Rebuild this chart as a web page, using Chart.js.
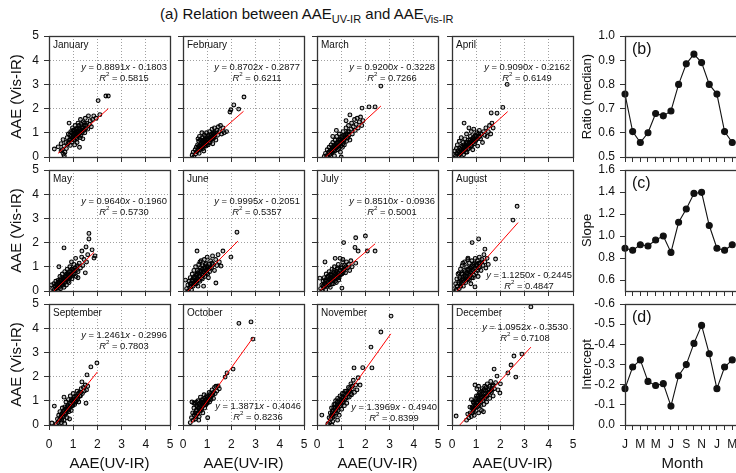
<!DOCTYPE html>
<html>
<head>
<meta charset="utf-8">
<script src="https://cdn.jsdelivr.net/npm/chart.js"></script>
<style>
  html, body { margin: 0; padding: 0; background: #fff; overflow: hidden; width: 736px; height: 473px; }
  canvas { position: absolute; }
  #title { position: absolute; left: 160px; top: 5px; white-space: nowrap; font: 15px "Liberation Sans", Arial, sans-serif; line-height: 17px; color: #111; }
  #title sub { font-size: 11px; line-height: 0; vertical-align: -4px; }
</style>
</head>
<body>
<div id="title">(a) Relation between AAE<sub>UV-IR</sub> and AAE<sub>Vis-IR</sub></div>
<script>
// ---------------- data ----------------
const monthNames = ["January", "February", "March", "April", "May", "June",
    "July", "August", "September", "October", "November", "December"];
const slopes = [0.8891, 0.8702, 0.9200, 0.9090, 0.9640, 0.9995, 0.8510, 1.1250, 1.2461, 1.3871, 1.3969, 1.0952];
const intercepts = [-0.1803, -0.2877, -0.3228, -0.2162, -0.1960, -0.2051, -0.0936, -0.2445, -0.2996, -0.4046, -0.4940, -0.3530];
const rSquared = [0.5815, 0.6211, 0.7266, 0.6149, 0.5730, 0.5357, 0.5001, 0.4847, 0.7803, 0.8236, 0.8399, 0.7108];
const fitFrom = [0.37, 0.45, 0.35, 0.3, 0.2, 0.2, 0.15, 0.22, 0.25, 0.35, 0.37, 0.32];
const fitTo = [2.45, 2.5, 2.64, 2.3, 1.86, 2.27, 2.4, 2.73, 2.0, 2.9, 3.05, 3.26];
const ratioMedian = [0.76, 0.605, 0.56, 0.60, 0.68, 0.67, 0.69, 0.80, 0.885, 0.925, 0.89, 0.80];
const monthLetters = ["J", "F", "M", "A", "M", "J", "J", "A", "S", "O", "N", "D", "J", "F", "M", "A"];
const scatterTicks = [0, 1, 2, 3, 4, 5];
const ratioTicks = [0.5, 0.6, 0.7, 0.8, 0.9, 1.0];
const slopeTicks = [0.6, 0.8, 1.0, 1.2, 1.4, 1.6];
const interceptTicks = [-0.6, -0.5, -0.4, -0.3, -0.2, -0.1, 0.0];

const janPts = [[0.22,0.33],[0.38,0.42],[0.5,0.55],[0.5,0.25],[0.55,0.3],[0.6,0.12],[0.63,0.05],[0.66,0.2],[0.58,0.72],[0.62,0.45],
    [0.7,0.6],[0.72,0.35],[0.75,0.8],[0.78,0.55],[0.8,0.95],[0.83,1.4],[0.85,0.7],[0.88,0.48],[0.9,1.05],[0.92,0.85],
    [0.95,0.62],[0.97,1.2],[1.0,0.9],[1.02,0.72],[1.04,1.1],[1.06,0.5],[1.08,1.3],[1.1,0.95],[1.12,0.8],[1.14,1.15],
    [1.16,0.6],[1.18,1.0],[1.2,1.4],[1.22,0.85],[1.24,1.2],[1.26,0.4],[1.28,1.05],[1.3,1.55],[1.32,0.9],[1.35,1.25],
    [1.38,1.1],[1.4,0.75],[1.42,1.45],[1.45,1.3],[1.48,1.0],[1.5,1.6],[1.53,1.2],[1.56,1.4],[1.6,1.15],[1.63,1.7],
    [1.67,1.35],[1.7,1.5],[1.75,1.25],[1.8,1.55],[1.85,1.7],[1.95,1.6],[2.03,2.33],[2.1,1.75],[2.35,2.52],[2.45,2.52],
    [0.82,0.6],[0.86,0.9],[0.9,0.7],[0.94,1.0],[0.96,0.78],[0.99,1.1],[1.01,0.82],[1.03,0.95],[1.05,0.7],[1.07,1.0],
    [1.09,1.15],[1.11,0.88],[1.13,1.05],[1.15,0.75],[1.17,1.2],[1.19,0.92],[1.21,1.05],[1.23,1.3],[1.25,0.98],[1.27,1.15],
    [1.29,0.8],[1.31,1.1],[1.34,1.35],[1.37,1.0],[1.4,1.2],[1.44,1.1],[1.47,1.4],[1.52,1.3]];
const febPts = [[0.38,0.08],[0.42,0.2],[0.45,0.0],[0.5,0.3],[0.52,0.12],[0.55,0.4],[0.58,0.22],[0.6,0.5],[0.62,0.75],[0.63,0.32],
    [0.65,0.65],[0.67,0.15],[0.68,0.85],[0.7,0.45],[0.72,0.7],[0.75,0.35],[0.77,0.58],[0.78,1.0],[0.8,0.8],[0.82,0.42],
    [0.84,0.65],[0.86,0.25],[0.88,0.9],[0.9,0.55],[0.92,0.75],[0.95,0.45],[0.97,1.0],[1.0,0.62],[1.02,0.85],[1.04,0.5],
    [1.07,0.72],[1.1,1.05],[1.12,0.6],[1.15,0.9],[1.18,0.75],[1.2,1.15],[1.23,0.55],[1.25,0.95],[1.28,0.8],[1.3,1.2],
    [1.33,1.0],[1.36,0.7],[1.4,1.1],[1.43,0.9],[1.46,1.25],[1.5,1.05],[1.55,1.3],[1.6,0.95],[1.65,1.2],[1.7,1.0],
    [1.8,1.05],[1.94,1.86],[1.98,1.95],[2.1,2.15],[2.3,1.98],[2.52,2.48],
    [0.62,0.3],[0.66,0.45],[0.7,0.3],[0.73,0.5],[0.76,0.4],[0.79,0.65],[0.81,0.5],[0.83,0.35],[0.85,0.55],[0.87,0.7],
    [0.89,0.45],[0.91,0.62],[0.93,0.85],[0.96,0.6],[0.98,0.75],[1.0,0.5],[1.03,0.7],[1.05,0.9],[1.08,0.6],[1.11,0.8],
    [1.14,0.7],[1.17,0.95],[1.2,0.85],[1.24,0.75],[1.27,1.0],[1.32,0.9]];
const marPts = [[0.3,0.02],[0.35,0.15],[0.4,0.05],[0.42,0.3],[0.45,0.0],[0.48,0.2],[0.5,0.4],[0.53,0.1],[0.55,0.28],[0.58,0.5],
    [0.6,0.18],[0.62,0.35],[0.65,0.6],[0.65,0.85],[0.68,0.25],[0.7,0.45],[0.72,0.05],[0.75,0.7],[0.77,0.38],[0.8,0.55],
    [0.8,1.1],[0.82,0.85],[0.85,0.3],[0.87,0.62],[0.9,0.45],[0.92,0.95],[0.95,0.7],[0.97,0.2],[1.0,0.55],[1.0,0.0],
    [1.02,0.85],[1.05,0.4],[1.08,1.05],[1.1,0.7],[1.13,0.5],[1.16,0.9],[1.2,1.2],[1.2,1.5],[1.22,0.65],[1.25,0.95],
    [1.28,0.8],[1.3,1.3],[1.33,1.05],[1.36,0.7],[1.36,1.74],[1.4,1.15],[1.43,1.4],[1.46,0.95],[1.5,1.25],[1.55,1.55],
    [1.58,1.1],[1.62,1.35],[1.66,1.6],[1.7,1.2],[1.75,1.45],[1.8,1.65],[1.85,1.3],[1.86,2.02],[1.9,1.5],[2.15,2.07],
    [2.4,2.07],[2.64,2.93],
    [0.52,0.2],[0.56,0.12],[0.6,0.3],[0.63,0.2],[0.66,0.4],[0.69,0.3],[0.72,0.5],[0.74,0.25],[0.78,0.45],[0.81,0.4],
    [0.84,0.6],[0.86,0.45],[0.89,0.7],[0.91,0.35],[0.94,0.55],[0.97,0.75],[0.99,0.45],[1.02,0.65],[1.05,0.8],[1.07,0.55],
    [1.1,0.9],[1.13,0.7],[1.17,0.8],[1.2,0.95],[1.24,0.8],[1.28,1.05],[1.32,0.9]];
const aprPts = [[0.1,0.1],[0.12,0.25],[0.15,0.05],[0.18,0.35],[0.2,0.15],[0.22,0.5],[0.25,0.25],[0.28,0.05],[0.3,0.65],[0.32,0.35],
    [0.35,0.18],[0.38,0.8],[0.4,0.45],[0.42,0.25],[0.45,0.6],[0.48,0.1],[0.5,1.4],[0.5,0.4],[0.53,0.75],[0.55,0.3],
    [0.58,0.55],[0.6,0.95],[0.62,0.2],[0.65,0.5],[0.68,0.7],[0.7,1.2],[0.7,0.35],[0.73,0.6],[0.76,0.85],[0.78,0.45],
    [0.8,1.05],[0.83,0.65],[0.86,0.3],[0.88,0.8],[0.9,1.15],[0.93,0.55],[0.96,0.9],[1.0,0.7],[1.03,1.0],[1.06,0.45],
    [1.1,0.85],[1.13,1.1],[1.18,0.75],[1.22,0.95],[1.26,0.6],[1.3,1.05],[1.35,0.9],[1.4,1.2],[1.45,0.85],[1.5,1.05],
    [1.55,1.3],[1.6,0.95],[1.62,1.82],[1.65,1.4],[1.7,1.2],[1.86,1.81],[2.1,2.05],[2.28,3.0],
    [0.3,0.2],[0.34,0.1],[0.37,0.3],[0.4,0.2],[0.43,0.4],[0.46,0.25],[0.49,0.5],[0.52,0.3],[0.55,0.45],[0.58,0.2],
    [0.6,0.4],[0.63,0.6],[0.66,0.35],[0.69,0.55],[0.72,0.45],[0.75,0.7],[0.78,0.6],[0.81,0.45],[0.84,0.75],[0.87,0.6],
    [0.9,0.7],[0.93,0.85],[0.97,0.65],[1.0,0.85],[1.05,0.75],[1.1,0.95],[1.15,0.85]];
const mayPts = [[0.1,0.25],[0.15,0.1],[0.2,0.3],[0.22,0.05],[0.25,0.2],[0.28,0.4],[0.3,0.1],[0.33,0.28],[0.35,0.0],[0.38,0.45],
    [0.41,1.0],[0.4,0.2],[0.43,0.35],[0.45,0.6],[0.48,0.1],[0.5,0.45],[0.52,0.25],[0.55,0.7],[0.58,0.35],[0.6,0.55],
    [0.62,1.78],[0.62,0.15],[0.65,0.8],[0.68,0.45],[0.7,0.62],[0.72,0.25],[0.75,0.9],[0.78,0.5],[0.8,0.72],[0.83,0.35],
    [0.86,1.0],[0.88,0.6],[0.9,0.8],[0.93,1.2],[0.95,0.5],[0.98,0.9],[1.0,0.7],[1.03,1.1],[1.06,0.85],[1.1,1.35],
    [1.12,0.6],[1.15,1.0],[1.2,0.8],[1.2,0.55],[1.25,1.15],[1.3,0.95],[1.35,1.4],[1.36,1.65],[1.4,1.05],[1.45,1.3],
    [1.5,0.75],[1.53,1.82],[1.55,1.2],[1.6,1.5],[1.65,2.15],[1.65,2.38],[1.78,1.7],[1.86,1.36],[1.9,1.45],
    [0.3,0.25],[0.34,0.15],[0.37,0.35],[0.41,0.3],[0.44,0.15],[0.46,0.45],[0.5,0.3],[0.53,0.55],[0.56,0.4],[0.59,0.25],
    [0.62,0.5],[0.65,0.35],[0.67,0.6],[0.7,0.45],[0.73,0.7],[0.76,0.55],[0.79,0.4],[0.81,0.65],[0.84,0.8],[0.87,0.55],
    [0.9,0.7],[0.93,0.9],[0.96,0.65],[1.0,0.85],[1.04,0.7],[1.08,0.95],[1.13,0.85],[1.18,1.05]];
const junPts = [[0.1,0.45],[0.15,0.1],[0.2,0.25],[0.22,0.0],[0.25,0.4],[0.28,0.15],[0.3,0.55],[0.33,0.3],[0.35,0.05],[0.38,0.7],
    [0.4,0.4],[0.42,0.2],[0.45,0.85],[0.47,0.55],[0.5,0.3],[0.52,1.0],[0.55,0.65],[0.57,0.4],[0.58,1.65],[0.6,0.85],
    [0.62,0.2],[0.65,1.1],[0.67,0.6],[0.7,0.4],[0.7,1.2],[0.72,0.95],[0.75,1.25],[0.77,0.7],[0.8,0.5],[0.82,1.05],
    [0.85,0.8],[0.85,0.2],[0.88,1.3],[0.9,0.6],[0.92,0.95],[0.95,1.15],[0.98,0.75],[1.0,1.4],[1.02,0.9],[1.05,0.55],
    [1.08,1.1],[1.1,0.8],[1.14,1.25],[1.18,0.95],[1.22,1.45],[1.25,1.1],[1.3,0.85],[1.35,1.3],[1.36,0.33],[1.4,1.05],
    [1.45,1.5],[1.5,1.2],[1.57,1.03],[1.65,1.65],[1.98,1.4],[2.23,2.43],
    [0.3,0.3],[0.34,0.2],[0.37,0.45],[0.4,0.3],[0.43,0.55],[0.46,0.35],[0.49,0.6],[0.52,0.45],[0.55,0.3],[0.57,0.7],
    [0.6,0.5],[0.63,0.75],[0.66,0.45],[0.69,0.85],[0.71,0.6],[0.74,0.8],[0.77,0.55],[0.8,0.9],[0.83,0.65],[0.86,0.95],
    [0.89,0.75],[0.92,1.1],[0.95,0.85],[0.98,1.0],[1.02,0.7],[1.06,1.0],[1.12,0.95],[1.2,1.15]];
const julPts = [[0.12,0.53],[0.15,0.1],[0.2,0.25],[0.22,0.0],[0.25,0.4],[0.28,0.15],[0.3,0.55],[0.33,1.2],[0.33,0.3],[0.36,0.05],
    [0.38,0.7],[0.4,0.4],[0.43,0.2],[0.45,0.6],[0.48,0.35],[0.5,0.8],[0.52,0.5],[0.55,0.15],[0.58,0.65],[0.6,0.4],
    [0.62,0.9],[0.65,0.55],[0.68,0.3],[0.7,0.75],[0.72,1.0],[0.75,0.5],[0.75,1.35],[0.78,0.7],[0.8,0.35],[0.83,0.9],
    [0.86,0.6],[0.88,1.1],[0.9,0.45],[0.93,0.8],[0.95,1.35],[0.96,0.65],[1.0,1.0],[1.03,0.7],[1.03,0.12],[1.06,1.2],
    [1.07,1.3],[1.1,0.85],[1.14,1.05],[1.18,0.75],[1.22,1.2],[1.26,0.95],[1.3,1.1],[1.35,0.85],[1.4,1.25],[1.45,1.0],
    [1.1,2.0],[1.57,1.8],[1.6,1.15],[1.6,2.2],[1.7,1.65],[2.0,2.27],[2.08,1.65],[2.4,1.65],
    [0.25,0.2],[0.3,0.3],[0.34,0.45],[0.37,0.25],[0.41,0.55],[0.44,0.35],[0.47,0.6],[0.5,0.25],[0.53,0.45],[0.56,0.7],
    [0.59,0.5],[0.62,0.3],[0.64,0.65],[0.67,0.45],[0.7,0.85],[0.73,0.6],[0.76,0.4],[0.79,0.8],[0.82,0.6],[0.85,0.95],
    [0.88,0.75],[0.91,0.55],[0.95,0.85],[0.99,0.7],[1.03,0.95],[1.08,0.75],[1.13,0.9],[1.2,1.0]];
const augPts = [[0.1,0.1],[0.15,0.3],[0.18,0.05],[0.2,0.5],[0.22,0.2],[0.25,0.7],[0.28,0.35],[0.3,0.1],[0.3,0.75],[0.32,0.55],
    [0.35,0.9],[0.38,0.3],[0.4,0.7],[0.42,1.05],[0.45,0.5],[0.45,1.15],[0.47,0.2],[0.5,0.85],[0.52,1.2],[0.55,0.6],
    [0.57,0.35],[0.6,1.0],[0.62,0.75],[0.65,1.3],[0.66,1.36],[0.67,0.5],[0.7,0.9],[0.72,1.15],[0.75,0.65],[0.78,0.3],
    [0.8,1.0],[0.82,1.25],[0.83,2.0],[0.85,0.8],[0.88,0.55],[0.9,1.1],[0.93,0.9],[0.95,0.17],[0.96,1.35],[1.0,0.75],
    [1.02,1.05],[1.05,1.25],[1.08,0.6],[1.1,2.15],[1.1,0.95],[1.13,1.4],[1.16,1.15],[1.2,0.85],[1.24,1.3],[1.28,1.05],
    [1.32,1.5],[1.36,1.73],[1.36,1.2],[1.4,0.95],[1.45,1.35],[1.5,1.1],[1.8,1.32],[2.52,2.93],[2.69,3.5],
    [0.3,0.3],[0.33,0.5],[0.36,0.2],[0.39,0.45],[0.42,0.7],[0.45,0.35],[0.48,0.6],[0.51,0.4],[0.54,0.8],[0.57,0.55],
    [0.6,0.75],[0.63,0.5],[0.66,0.9],[0.69,0.7],[0.72,0.45],[0.75,0.95],[0.78,0.75],[0.81,0.55],[0.84,1.05],[0.87,0.85],
    [0.9,0.65],[0.93,1.15],[0.97,0.95],[1.0,1.1],[1.05,0.85],[1.1,1.15],[1.16,1.0],[1.22,1.2]];
const sepPts = [[0.12,0.08],[0.22,0.78],[0.3,0.05],[0.35,0.25],[0.38,0.1],[0.4,0.4],[0.43,0.2],[0.45,0.55],[0.48,0.3],[0.5,0.1],
    [0.52,0.45],[0.55,0.7],[0.57,0.35],[0.6,0.55],[0.62,1.15],[0.62,0.2],[0.65,0.75],[0.65,0.05],[0.68,0.45],[0.7,0.95],
    [0.72,0.6],[0.75,0.3],[0.77,0.8],[0.8,1.05],[0.82,0.55],[0.85,0.75],[0.85,0.25],[0.88,1.2],[0.9,0.9],[0.92,0.6],
    [0.95,1.0],[0.98,0.8],[1.0,1.3],[1.03,1.05],[1.06,0.85],[1.1,1.2],[1.13,1.0],[1.16,1.4],[1.2,1.15],[1.23,0.95],
    [1.26,1.35],[1.3,1.2],[1.33,1.5],[1.36,1.78],[1.38,1.3],[1.42,1.55],[1.46,1.4],[1.5,1.65],[1.53,0.9],[1.55,1.45],
    [1.57,2.07],[1.6,1.6],[1.73,2.4],[1.98,2.56],
    [0.5,0.35],[0.53,0.2],[0.56,0.5],[0.59,0.4],[0.62,0.6],[0.65,0.45],[0.68,0.65],[0.71,0.5],[0.74,0.75],[0.77,0.6],
    [0.8,0.8],[0.83,0.65],[0.86,0.9],[0.89,0.75],[0.92,1.0],[0.95,0.8],[0.98,1.05],[1.01,0.9],[1.04,1.15],[1.07,1.0],
    [1.1,0.95],[1.14,1.2],[1.18,1.05],[1.22,1.3],[1.27,1.2],[1.32,1.35]];
const octPts = [[0.3,0.1],[0.35,0.3],[0.37,0.95],[0.4,0.5],[0.42,0.2],[0.45,0.7],[0.45,0.9],[0.47,0.4],[0.5,0.9],[0.52,0.25],
    [0.55,0.6],[0.55,0.95],[0.57,0.8],[0.6,0.45],[0.62,1.0],[0.65,0.7],[0.65,0.2],[0.67,0.35],[0.7,0.9],[0.72,1.15],
    [0.75,0.6],[0.77,0.8],[0.8,1.05],[0.82,0.5],[0.85,0.9],[0.87,1.25],[0.9,0.7],[0.92,1.0],[0.95,0.85],[0.97,1.2],
    [1.0,0.9],[1.02,0.3],[1.05,1.1],[1.08,1.35],[1.1,0.95],[1.13,1.2],[1.16,1.05],[1.2,1.45],[1.23,1.25],[1.26,1.1],
    [1.3,1.55],[1.33,1.3],[1.36,1.6],[1.4,1.4],[1.45,1.61],[1.5,1.5],[1.74,1.98],[1.82,2.15],[2.07,2.31],[2.31,4.2],
    [2.81,4.26],[2.89,3.55],
    [0.5,0.5],[0.53,0.35],[0.56,0.6],[0.59,0.75],[0.62,0.5],[0.64,0.7],[0.67,0.85],[0.69,0.6],[0.72,0.8],[0.74,0.95],
    [0.77,0.65],[0.79,0.9],[0.82,1.05],[0.84,0.8],[0.87,0.95],[0.89,1.1],[0.92,0.85],[0.94,1.05],[0.97,0.95],[1.0,1.15],
    [1.03,1.0],[1.06,1.2],[1.1,1.1],[1.14,1.3],[1.18,1.2],[1.25,1.35]];
const novPts = [[0.2,0.41],[0.45,0.05],[0.5,0.3],[0.52,0.1],[0.55,0.5],[0.57,0.25],[0.6,0.7],[0.62,0.4],[0.62,0.0],[0.65,0.15],
    [0.67,0.6],[0.7,0.85],[0.72,0.35],[0.75,0.7],[0.77,1.0],[0.8,0.5],[0.82,0.8],[0.85,1.1],[0.85,0.2],[0.87,0.6],
    [0.9,0.95],[0.92,0.4],[0.95,1.2],[0.97,0.8],[1.0,1.0],[1.02,0.65],[1.05,1.3],[1.08,0.95],[1.1,1.15],[1.13,0.8],
    [1.16,1.4],[1.2,1.1],[1.23,0.9],[1.26,1.3],[1.3,1.55],[1.33,1.15],[1.36,1.4],[1.4,1.7],[1.43,1.25],[1.46,1.5],
    [1.5,1.85],[1.53,2.36],[1.55,1.35],[1.6,1.65],[1.65,1.45],[1.7,1.95],[1.78,1.65],[1.89,2.37],[2.23,3.22],[2.27,2.36],
    [2.64,3.84],[3.06,4.5],
    [0.6,0.4],[0.63,0.55],[0.66,0.35],[0.69,0.7],[0.72,0.5],[0.75,0.85],[0.78,0.6],[0.81,0.75],[0.84,0.95],[0.87,0.7],
    [0.9,0.85],[0.93,1.05],[0.96,0.8],[0.99,0.95],[1.02,1.15],[1.05,0.9],[1.08,1.1],[1.11,1.3],[1.14,1.05],[1.18,1.25],
    [1.22,1.4],[1.26,1.15],[1.3,1.35],[1.35,1.5],[1.4,1.3],[1.45,1.6]];
const decPts = [[0.17,0.37],[0.6,0.2],[0.65,0.45],[0.7,0.3],[0.74,0.74],[0.75,0.5],[0.8,0.35],[0.8,1.05],[0.82,0.7],[0.85,0.5],
    [0.88,0.95],[0.9,0.65],[0.92,0.4],[0.95,1.65],[0.95,0.85],[0.98,1.1],[1.0,0.6],[1.03,1.49],[1.03,0.9],[1.06,0.75],
    [1.08,1.2],[1.1,0.5],[1.1,1.6],[1.12,1.0],[1.15,1.35],[1.18,0.8],[1.2,1.15],[1.22,0.6],[1.25,1.5],[1.28,1.0],
    [1.3,1.3],[1.3,0.55],[1.32,0.85],[1.35,1.6],[1.38,1.15],[1.4,1.4],[1.43,0.95],[1.46,1.7],[1.5,1.25],[1.53,1.5],
    [1.56,1.1],[1.6,1.8],[1.63,1.35],[1.67,1.6],[1.7,1.2],[1.74,2.31],[1.75,1.5],[1.8,1.75],[1.86,2.02],[1.9,1.45],
    [1.98,1.32],[2.0,1.7],[2.31,2.15],[2.44,2.48],[2.56,2.85],[2.64,1.98],[2.89,2.93],[3.26,4.88],
    [0.85,0.75],[0.88,0.6],[0.9,0.9],[0.93,0.7],[0.96,1.0],[0.99,0.8],[1.01,1.2],[1.04,0.95],[1.07,1.1],[1.1,0.8],
    [1.12,1.3],[1.15,1.05],[1.18,1.25],[1.2,0.95],[1.23,1.4],[1.26,1.15],[1.29,1.2],[1.32,1.45],[1.35,1.1],[1.38,1.3],
    [1.41,1.55],[1.44,1.2],[1.48,1.45],[1.52,1.35],[1.56,1.6],[1.6,1.4],[1.65,1.45],[1.7,1.65]];
const monthPoints = [janPts, febPts, marPts, aprPts, mayPts, junPts, julPts, augPts, sepPts, octPts, novPts, decPts];

// ---------------- layout ----------------
const FONT = '"Liberation Sans", Arial, sans-serif';
const colLeft = [49, 183, 317, 452];
const rowTop = [36, 170, 304];
const PANEL = 121;
// equation centre offset from the right edge / top of the plot area
const eqPlace = [[-46, 31], [-47, 31], [-46, 31], [-46, 31], [-46, 31], [-47, 31],
    [-46, 31], [-44, 105], [-46, 31], [-46, 102], [-44, 103], [-48, 23]];

Chart.defaults.font.family = FONT;
Chart.defaults.color = "#111";

const framePlugin = {
    id: "frame",
    afterDatasetsDraw(chart) {
        const { ctx, chartArea: a } = chart;
        ctx.save();
        ctx.strokeStyle = "#333";
        ctx.lineWidth = 1.3;
        ctx.strokeRect(Math.round(a.left) + 0.5, Math.round(a.top) + 0.5,
            Math.round(a.right - a.left), Math.round(a.bottom - a.top));
        ctx.restore();
    }
};

// fixed axis sizes so every plot area lands exactly where it should
function fixWidth(w) {
    return s => { s.width = w; s.paddingTop = 0; s.paddingBottom = 0; };
}
function fixHeight(h) {
    return s => { s.height = h; s.paddingLeft = 0; s.paddingRight = 0; };
}

function drawRich(ctx, parts, cx, cy, size) {
    const fontOf = st => (st === "i" ? "italic " : "") + (st === "s" ? size * 0.65 : size) + "px " + FONT;
    let total = 0;
    parts.forEach(([t, st]) => { ctx.font = fontOf(st); total += ctx.measureText(t).width; });
    let x = cx - total / 2;
    ctx.textAlign = "left";
    ctx.textBaseline = "middle";
    parts.forEach(([t, st]) => {
        ctx.font = fontOf(st);
        ctx.fillText(t, x, st === "s" ? cy - size * 0.38 : cy);
        x += ctx.measureText(t).width;
    });
}

function makeCanvas(left, top, w, h) {
    const c = document.createElement("canvas");
    c.width = w; c.height = h;
    c.style.left = left + "px"; c.style.top = top + "px";
    c.style.width = w + "px"; c.style.height = h + "px";
    document.body.appendChild(c);
    return c;
}

// ---------------- scatter panels ----------------
function scatterPanel(i) {
    const col = i % 4, row = Math.floor(i / 4);
    const yw = col === 0 ? 49 : 10;
    const xh = row === 2 ? 48 : 6;
    const canvas = makeCanvas(colLeft[col] - yw, rowTop[row] - 6, yw + PANEL + 8, 6 + PANEL + xh);
    const a = slopes[i], b = intercepts[i];

    const textPlugin = {
        id: "panelText" + i,
        afterDraw(chart) {
            const { ctx, chartArea: area } = chart;
            ctx.save();
            ctx.fillStyle = "#111";
            ctx.font = "10px " + FONT;
            ctx.textAlign = "left";
            ctx.textBaseline = "middle";
            ctx.fillText(monthNames[i], area.left + 4, area.top + 9);
            const cx = area.right + eqPlace[i][0], cy = area.top + eqPlace[i][1];
            const sign = b < 0 ? " - " : " + ";
            drawRich(ctx, [["y", "i"], [" = " + a.toFixed(4), "n"], ["x", "i"], [sign + Math.abs(b).toFixed(4), "n"]], cx, cy, 9.4);
            drawRich(ctx, [["R", "i"], ["2", "s"], [" = " + rSquared[i].toFixed(4), "n"]], cx, cy + 11, 9.4);
            ctx.restore();
        }
    };

    new Chart(canvas, {
        type: "scatter",
        data: {
            datasets: [{
                data: monthPoints[i].map(p => ({ x: p[0], y: p[1] })),
                order: 2,
                pointRadius: 1.9,
                borderWidth: 1.1,
                borderColor: "#000",
                backgroundColor: "rgba(0,0,0,0.22)"
            }, {
                type: "line",
                order: 1,
                data: [{ x: fitFrom[i], y: a * fitFrom[i] + b }, { x: fitTo[i], y: a * fitTo[i] + b }],
                borderColor: "#ff0000",
                borderWidth: 1,
                pointRadius: 0
            }]
        },
        options: {
            responsive: false,
            animation: false,
            events: [],
            layout: { padding: { top: 6, right: 8, left: 0, bottom: 0 } },
            plugins: { legend: { display: false }, tooltip: { enabled: false } },
            scales: {
                x: {
                    type: "linear", min: 0, max: 5,
                    afterFit: fixHeight(xh),
                    afterBuildTicks: s => { s.ticks = scatterTicks.map(v => ({ value: v })); },
                    ticks: { autoSkip: false, maxRotation: 0, padding: 7, font: { size: 12 },
                        color: row === 2 ? "#111" : "rgba(0,0,0,0)" },
                    grid: { color: "#a0a0a0", tickColor: "#333", tickLength: 5 },
                    border: { color: "#333", dash: [1, 2] },
                    title: { display: row === 2, text: "AAE(UV-IR)", font: { size: 15 }, padding: 0, color: "#111" }
                },
                y: {
                    type: "linear", min: 0, max: 5,
                    afterFit: fixWidth(yw),
                    afterBuildTicks: s => { s.ticks = scatterTicks.map(v => ({ value: v })); },
                    ticks: { autoSkip: false, padding: 5, font: { size: 12 },
                        color: col === 0 ? "#111" : "rgba(0,0,0,0)" },
                    grid: { color: "#a0a0a0", tickColor: "#333", tickLength: 5 },
                    border: { color: "#333", dash: [1, 2] },
                    title: { display: col === 0, text: "AAE (Vis-IR)", font: { size: 15 },
                        padding: { top: 8, bottom: 0 }, color: "#111" }
                }
            }
        },
        plugins: [framePlugin, textPlugin]
    });
}

for (let i = 0; i < 12; i++) scatterPanel(i);

// ---------------- monthly panels ----------------
function monthPanel(row, values, yTicks, yMin, yMax, reverse, yTitle, tag) {
    const yw = 45;
    const xh = row === 2 ? 48 : 6;
    const canvas = makeCanvas(625 - yw, rowTop[row] - 6, 165, 6 + PANEL + xh);

    const tagPlugin = {
        id: "tag" + row,
        afterDraw(chart) {
            const { ctx, chartArea: area } = chart;
            ctx.save();
            ctx.fillStyle = "#111";
            ctx.font = "16px " + FONT;
            ctx.textAlign = "left";
            ctx.textBaseline = "middle";
            ctx.fillText(tag, area.left + 7, area.top + 14);
            ctx.restore();
        }
    };

    new Chart(canvas, {
        type: "line",
        data: {
            datasets: [{
                data: values.map((v, k) => ({ x: k, y: v })),
                borderColor: "#111",
                borderWidth: 1.1,
                pointRadius: 3,
                pointBackgroundColor: "#111",
                pointBorderColor: "#111",
                clip: false
            }]
        },
        options: {
            responsive: false,
            animation: false,
            events: [],
            layout: { padding: { top: 6, right: 5, left: 0, bottom: 0 } },
            plugins: { legend: { display: false }, tooltip: { enabled: false } },
            scales: {
                x: {
                    type: "linear", min: 0, max: 15,
                    afterFit: fixHeight(xh),
                    afterBuildTicks: s => { s.ticks = monthLetters.map((m, k) => ({ value: k })); },
                    ticks: {
                        autoSkip: false, maxRotation: 0, padding: 7, font: { size: 12 },
                        color: row === 2 ? "#111" : "rgba(0,0,0,0)",
                        callback: v => (v % 2 === 0 && v <= 14) ? monthLetters[v] : ""
                    },
                    grid: { drawOnChartArea: false, tickColor: "#333", tickLength: 5 },
                    border: { color: "#333" },
                    title: { display: row === 2, text: "Month", font: { size: 15 }, padding: 0, color: "#111" }
                },
                y: {
                    type: "linear", min: yMin, max: yMax, reverse: reverse,
                    afterFit: fixWidth(yw),
                    afterBuildTicks: s => { s.ticks = yTicks.map(v => ({ value: v })); },
                    ticks: { autoSkip: false, padding: 5, font: { size: 12 }, callback: v => v.toFixed(1) },
                    grid: { drawOnChartArea: false, tickColor: "#333", tickLength: 5 },
                    border: { color: "#333" },
                    title: { display: true, text: yTitle, font: { size: 13 }, padding: { top: 0, bottom: 0 }, color: "#111" }
                }
            }
        },
        plugins: [framePlugin, tagPlugin]
    });
}

const ratioSeries = ratioMedian.concat(ratioMedian.slice(0, 3));
const slopeSeries = slopes.concat(slopes.slice(0, 3));
const interceptSeries = intercepts.concat(intercepts.slice(0, 3));

monthPanel(0, ratioSeries, ratioTicks, 0.5, 1.0, false, "Ratio (median)", "(b)");
monthPanel(1, slopeSeries, slopeTicks, 0.5, 1.6, false, "Slope", "(c)");
monthPanel(2, interceptSeries, interceptTicks, -0.6, 0.0, true, "Intercept", "(d)");
</script>
</body>
</html>
